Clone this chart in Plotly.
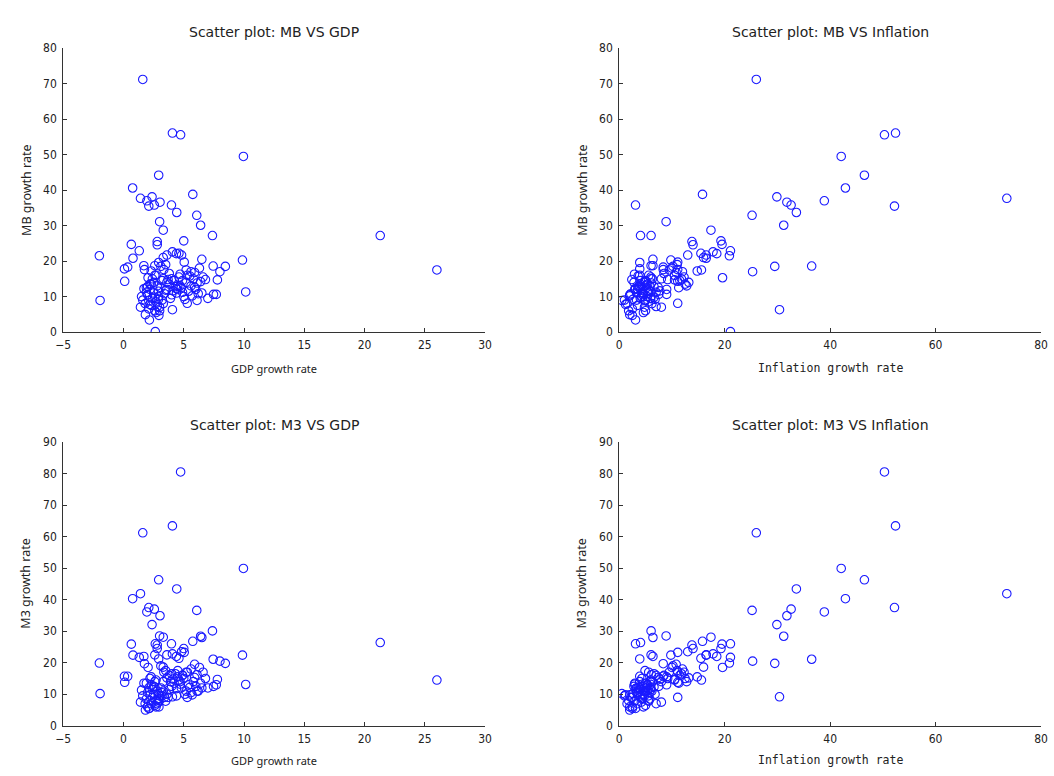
import plotly.graph_objects as go

# ---- data: each index is one observation (GDP growth, inflation, MB growth, M3 growth) ----
gdp = [1.6, 4.06, 4.74, 9.95, 2.92, 0.76, 1.41, 2.37, 1.94, 2.56, 2.1, 3.03, 3.98, 4.42, 5.75, 6.08, 6.4,
       3.0, 7.38, 6.5, 3.3, 2.8, 2.8, 5.0, 0.65, 1.31, -2.0, 0.79, 9.87, 0.08, 0.35, 0.1, -1.94, 10.14,
       7.44, 8.0, 8.45, 4.06, 2.64, 21.3, 26.0, 3.6, 4.06, 4.39, 4.6, 4.82, 5.04, 2.92, 2.6, 1.69, 3.3,
       1.74, 2.04, 2.3, 3.35, 1.41, 1.82, 2.15, 5.29, 6.1, 7.0, 7.47, 7.7, 2.94, 7.79,
       1.6, 1.8, 2.0, 2.1, 2.2, 2.3, 2.4, 2.5, 2.6, 2.7, 2.8, 2.9, 3.0, 3.1, 3.2, 2.5, 2.7, 2.9, 3.3,
       2.2, 2.0, 1.9, 2.6, 3.4, 2.3, 2.8, 3.0, 1.7, 2.4, 3.2, 2.1, 2.9, 3.5, 2.6, 1.5,
       3.6, 3.8, 4.0, 4.2, 4.4, 4.6, 4.8, 5.0, 5.2, 5.4, 5.6, 5.8, 6.0, 6.2, 6.4, 4.3, 4.9, 5.5, 3.9,
       4.7, 5.1, 5.9, 6.5, 3.7, 4.5, 5.3, 6.1, 4.1, 5.7, 4.4,
       3.3, 3.8, 4.5, 5.2, 6.3, 2.7, 3.5, 4.9, 5.6, 6.6, 2.2, 4.0, 3.1, 6.8, 4.7, 1.9, 5.9, 3.6]
inflation = [26.0, 52.4, 50.3, 42.1, 46.5, 42.9, 73.5, 29.9, 38.9, 32.6, 52.2, 31.8, 3.1, 33.6, 15.8, 25.2, 31.2,
             8.9, 6.05, 6.4, 17.4, 13.8, 14.0, 19.3, 19.5, 21.1, 20.9, 16.5, 9.8, 3.9, 8.35, 11.1, 0.5, 6.0,
             36.5, 25.3, 29.5, 30.4, 21.1, 4.05, 15.6, 16.5, 17.8, 18.5, 15.5, 13.0, 11.1, 3.9, 6.05, 6.4, 16.0,
             8.35, 19.6, 14.8, 11.1, 8.0, 2.0, 3.1, 11.1, 5.0, 6.0, 7.5, 9.0, 2.5, 10.5,
             1.0, 1.5, 2.0, 2.5, 3.0, 3.5, 4.0, 4.5, 5.0, 5.5, 3.8, 4.2, 4.8, 5.2, 3.3, 2.8, 4.6, 5.8, 6.2,
             1.2, 3.6, 4.4, 6.6, 2.2, 5.4, 7.0, 1.8, 3.0, 6.0, 4.0, 4.9, 2.6, 5.6, 3.9, 5.3,
             3.5, 4.0, 4.5, 5.0, 5.5, 6.0, 3.8, 4.3, 4.8, 5.3, 5.8, 6.3, 4.1, 4.6, 5.1, 6.6, 7.0, 3.6, 5.9,
             2.9, 6.8, 7.4, 3.3, 2.4, 4.9, 5.6, 6.1, 7.7, 2.0, 3.1,
             8.0, 8.5, 9.0, 9.5, 10.0, 10.5, 11.0, 11.5, 12.0, 12.3, 12.5, 11.8, 10.2, 9.2, 12.8, 11.3, 10.8, 13.2]
mb = [71.2, 56.1, 55.6, 49.5, 44.2, 40.6, 37.7, 38.1, 37.0, 35.8, 35.5, 36.6, 35.8, 33.7, 38.8, 32.9, 30.1,
      31.1, 27.2, 20.5, 28.7, 25.5, 24.6, 25.7, 24.7, 22.9, 21.5, 20.8, 20.3, 17.8, 18.3, 14.3, 8.9, 11.3,
      18.6, 17.0, 18.5, 6.3, 0.1, 27.2, 17.5, 21.7, 22.6, 22.1, 22.2, 21.7, 19.7, 19.6, 18.7, 18.7, 21.0,
      17.6, 15.3, 17.2, 17.6, 7.0, 4.9, 3.4, 8.1, 8.9, 9.5, 10.6, 10.6, 4.7, 14.7,
      9.0, 8.0, 10.5, 6.5, 12.0, 7.5, 9.5, 11.0, 6.0, 8.5, 13.0, 10.0, 7.0, 12.5, 9.0, 14.0, 5.5, 11.5, 8.0,
      7.8, 12.8, 11.2, 9.8, 10.8, 13.5, 7.2, 6.0, 12.2, 15.0, 14.5, 8.8, 9.2, 11.8, 16.0, 10.0,
      12.0, 13.5, 10.5, 14.5, 11.0, 15.5, 12.5, 10.0, 14.0, 11.5, 13.0, 15.0, 12.0, 10.8, 14.2, 12.8, 11.2, 15.8, 9.5,
      16.3, 9.2, 12.6, 11.0, 14.8, 13.0, 16.0, 13.8, 11.6, 10.2, 12.2,
      15.0, 16.5, 12.0, 17.5, 18.0, 16.0, 19.0, 14.5, 17.0, 15.5, 13.5, 15.0, 18.5, 14.8, 13.0, 12.5, 16.8, 14.0]
m3 = [61.2, 63.4, 80.5, 49.9, 46.3, 40.3, 41.9, 32.1, 36.1, 37.0, 37.5, 34.9, 26.0, 43.4, 26.8, 36.6, 28.4,
      28.5, 30.1, 28.0, 28.1, 25.6, 24.5, 24.5, 25.9, 21.7, 19.9, 22.4, 22.4, 15.7, 15.7, 13.8, 10.2, 13.1,
      21.1, 20.5, 19.8, 9.2, 26.0, 26.4, 14.5, 22.5, 22.8, 22.0, 21.4, 23.5, 23.3, 21.2, 22.5, 22.0, 18.6,
      19.7, 18.5, 15.5, 17.0, 7.5, 5.0, 5.5, 9.0, 11.0, 12.0, 12.5, 13.0, 6.0, 14.7,
      9.5, 7.0, 6.0, 5.5, 8.0, 7.0, 9.0, 10.0, 6.5, 8.0, 11.0, 7.5, 9.5, 12.0, 10.5, 12.5, 6.0, 8.5, 11.0,
      9.8, 10.5, 8.5, 12.3, 9.0, 13.0, 7.0, 8.0, 13.5, 11.5, 9.5, 12.0, 10.2, 7.8, 14.0, 11.3,
      10.0, 11.5, 12.5, 13.5, 9.5, 14.5, 12.0, 15.0, 11.0, 13.0, 10.5, 14.0, 12.5, 11.0, 13.5, 16.5, 16.0, 12.2, 14.0,
      13.2, 10.0, 15.3, 12.0, 9.0, 17.5, 17.0, 16.2, 14.8, 9.8, 11.8,
      14.0, 16.0, 15.5, 17.0, 18.5, 14.5, 17.5, 16.0, 18.0, 17.0, 15.0, 16.5, 19.0, 15.0, 14.0, 13.5, 19.5, 15.2]

gdp_ticks = [-5, 0, 5, 10, 15, 20, 25, 30]
infl_ticks = [0, 20, 40, 60, 80]
mb_ticks = [0, 10, 20, 30, 40, 50, 60, 70, 80]
m3_ticks = [0, 10, 20, 30, 40, 50, 60, 70, 80, 90]

panels = [
    ("Scatter plot: MB VS GDP", gdp, mb, "GDP growth rate", "MB growth rate", gdp_ticks, mb_ticks),
    ("Scatter plot: MB VS Inflation", inflation, mb, "Inflation growth rate", "MB growth rate", infl_ticks, mb_ticks),
    ("Scatter plot: M3 VS GDP", gdp, m3, "GDP growth rate", "M3 growth rate", gdp_ticks, m3_ticks),
    ("Scatter plot: M3 VS Inflation", inflation, m3, "Inflation growth rate", "M3 growth rate", infl_ticks, m3_ticks),
]

W, H = 1054, 776
xdoms = [(56, 484), (620, 1048)]     # page pixels
ydoms = [(42, 331), (443, 732)]      # page pixels

def px(x):
    return min(max(x / W, 0.0), 1.0)

def py(y):
    return min(max(1 - y / H, 0.0), 1.0)

FONT = "Noto Sans"
TXT = "#222222"
fig = go.Figure()
layout = dict(width=W, height=H, margin=dict(l=0, r=0, t=0, b=0),
              paper_bgcolor="white", plot_bgcolor="white", showlegend=False,
              font=dict(family=FONT, color=TXT))
annotations = []
for i, (title, xs, ys, xt, yt, xtk, ytk) in enumerate(panels):
    col, row = i % 2, i // 2
    x0, x1 = xdoms[col]
    y0, y1 = ydoms[row]
    xa = "xaxis" if i == 0 else f"xaxis{i+1}"
    ya = "yaxis" if i == 0 else f"yaxis{i+1}"
    xref = "x" if i == 0 else f"x{i+1}"
    yref = "y" if i == 0 else f"y{i+1}"
    fig.add_trace(go.Scatter(x=xs, y=ys, mode="markers", xaxis=xref, yaxis=yref,
                             marker=dict(symbol="circle-open", size=8.5, color="#1a1aff",
                                         line=dict(width=1.1, color="#1a1aff"))))
    axis_common = dict(showline=True, linecolor="#333333", linewidth=1, ticks="inside",
                       ticklen=4, tickcolor="#333333", showgrid=False, zeroline=False,
                       mirror=False, tickfont=dict(family="DejaVu Sans Condensed", size=12, color=TXT))
    layout[xa] = dict(domain=[px(x0), px(x1)], range=[xtk[0], xtk[-1]], tickvals=xtk,
                      anchor=yref, ticklabelstandoff=2, **axis_common)
    layout[ya] = dict(domain=[py(y1), py(y0)], range=[ytk[0], ytk[-1]], tickvals=ytk,
                      anchor=xref, ticklabelstandoff=3, **axis_common)
    cx = px((x0 + x1) / 2)
    annotations.append(dict(text=title, x=cx, y=py(y0 - 17), xref="paper", yref="paper",
                            showarrow=False, font=dict(size=14, family="DejaVu Sans", color=TXT),
                            xanchor="center", yanchor="middle"))
    if xt.startswith("GDP"):
        xfont = dict(size=11, family=FONT, color=TXT)
    else:
        xfont = dict(size=11.5, family="DejaVu Sans Mono", color=TXT)
    xlab_y = y1 + 37 if row == 0 else y1 + 35
    annotations.append(dict(text=xt, x=cx, y=py(xlab_y), xref="paper", yref="paper",
                            showarrow=False, font=xfont, xanchor="center", yanchor="middle"))
    annotations.append(dict(text=yt, x=px(x0 - 38), y=py((y0 + y1) / 2), xref="paper", yref="paper",
                            showarrow=False, textangle=-90, font=dict(size=12.5, family=FONT, color=TXT),
                            xanchor="center", yanchor="middle"))
layout["annotations"] = annotations
fig.update_layout(**layout)
fig.write_html("out.html")
